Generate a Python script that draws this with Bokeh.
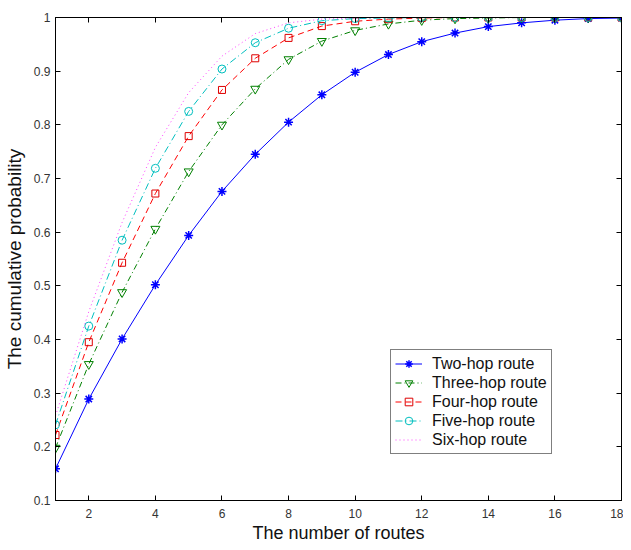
from bokeh.plotting import figure
from bokeh.models import LinearAxis, FixedTicker, Legend, LegendItem, Range1d
from bokeh.embed import file_html
from bokeh.resources import INLINE

routes = list(range(1, 19))
two_hop = [0.159, 0.289, 0.401, 0.502, 0.594, 0.676, 0.745, 0.805, 0.856, 0.898,
           0.931, 0.955, 0.971, 0.983, 0.990, 0.995, 0.998, 0.999]
three_hop = [0.198, 0.354, 0.488, 0.606, 0.713, 0.800, 0.867, 0.922, 0.956, 0.976,
             0.988, 0.995, 0.998, 0.999, 1.0, 1.0, 1.0, 1.0]
four_hop = [0.222, 0.395, 0.543, 0.672, 0.779, 0.865, 0.924, 0.962, 0.984, 0.993,
            0.997, 0.999, 1.0, 1.0, 1.0, 1.0, 1.0, 1.0]
five_hop = [0.241, 0.425, 0.585, 0.719, 0.825, 0.904, 0.953, 0.980, 0.994, 0.998,
            0.999, 1.0, 1.0, 1.0, 1.0, 1.0, 1.0, 1.0]
six_hop = [0.258, 0.452, 0.618, 0.758, 0.860, 0.928, 0.970, 0.990, 0.997, 0.999,
           1.0, 1.0, 1.0, 1.0, 1.0, 1.0, 1.0, 1.0]

x_ticks = [2, 4, 6, 8, 10, 12, 14, 16, 18]
y_ticks = [0.1, 0.2, 0.3, 0.4, 0.5, 0.6, 0.7, 0.8, 0.9, 1.0]
y_labels = {0.1: "0.1", 0.2: "0.2", 0.3: "0.3", 0.4: "0.4", 0.5: "0.5",
            0.6: "0.6", 0.7: "0.7", 0.8: "0.8", 0.9: "0.9", 1.0: "1"}
names = ["Two-hop route", "Three-hop route", "Four-hop route", "Five-hop route", "Six-hop route"]

FONT = "Liberation Sans"

p = figure(width=623, height=545, output_backend="svg", toolbar_location=None,
           x_range=Range1d(1, 18), y_range=Range1d(0.1, 1.0),
           min_border_left=55, min_border_right=2, min_border_top=17, min_border_bottom=44,
           x_axis_label="The number of routes", y_axis_label="The cumulative probability")
p.grid.visible = False
p.outline_line_color = "black"
p.outline_line_width = 1
p.background_fill_color = "white"

for ax in (p.xaxis[0], p.yaxis[0]):
    ax.major_tick_in = 5
    ax.major_tick_out = 0
    ax.minor_tick_line_color = None
    ax.axis_line_color = "black"
    ax.major_tick_line_color = "black"
    ax.major_label_text_font = FONT
    ax.major_label_text_font_size = "12px"
    ax.major_label_text_color = "#333333"
    ax.axis_label_text_font = FONT
    ax.axis_label_text_font_style = "normal"
    ax.axis_label_text_color = "#111111"

p.xaxis[0].axis_label_text_font_size = "18px"
p.yaxis[0].axis_label_text_font_size = "19px"
p.xaxis[0].ticker = FixedTicker(ticks=x_ticks)
p.yaxis[0].ticker = FixedTicker(ticks=y_ticks)
p.yaxis[0].major_label_overrides = y_labels
p.xaxis[0].major_label_standoff = 8
p.xaxis[0].axis_label_standoff = 2
p.yaxis[0].major_label_standoff = 5
p.yaxis[0].axis_label_standoff = 6

top = LinearAxis(ticker=FixedTicker(ticks=x_ticks), major_tick_in=5, major_tick_out=0,
                 minor_tick_line_color=None, major_label_standoff=0,
                 major_label_overrides={t: "" for t in x_ticks})
right = LinearAxis(ticker=FixedTicker(ticks=y_ticks), major_tick_in=5, major_tick_out=0,
                   minor_tick_line_color=None, major_label_standoff=0,
                   major_label_overrides={t: "" for t in y_ticks})
p.add_layout(top, "above")
p.add_layout(right, "right")

r1 = p.line(routes, two_hop, line_color="#0000FF", line_width=1)
m1 = p.scatter(routes, two_hop, marker="asterisk", size=9, line_color="#0000FF", line_width=1.5)

r2 = p.line(routes, three_hop, line_color="#008000", line_width=1, line_dash="6 3 1 3")
m2 = p.scatter(routes, three_hop, marker="inverted_triangle", size=9, line_color="#008000",
               fill_color=None, line_width=1)

r3 = p.line(routes, four_hop, line_color="#FF0000", line_width=1, line_dash="6 4")
m3 = p.scatter(routes, four_hop, marker="square", size=7, line_color="#DD0000",
               fill_color=None, line_width=1)

r4 = p.line(routes, five_hop, line_color="#00BFBF", line_width=1, line_dash="7 3 1 3")
m4 = p.scatter(routes, five_hop, marker="circle", size=8, line_color="#00BFBF",
               fill_color=None, line_width=1)

r5 = p.line(routes, six_hop, line_color="#FF00FF", line_alpha=0.75, line_width=1, line_dash="1 3")

legend = Legend(items=[
    LegendItem(label=names[0], renderers=[r1, m1]),
    LegendItem(label=names[1], renderers=[r2, m2]),
    LegendItem(label=names[2], renderers=[r3, m3]),
    LegendItem(label=names[3], renderers=[r4, m4]),
    LegendItem(label=names[4], renderers=[r5]),
], location=(335, 46))
legend.label_text_font = FONT
legend.label_text_font_size = "16px"
legend.label_text_color = "#111111"
legend.border_line_color = "black"
legend.border_line_width = 1
legend.spacing = 0
legend.label_height = 19
legend.glyph_height = 19
legend.glyph_width = 27
legend.padding = 4
legend.margin = 0
legend.label_standoff = 10
legend.background_fill_alpha = 1.0
p.add_layout(legend, "center")

open("out.html", "w").write(file_html(p, INLINE))
